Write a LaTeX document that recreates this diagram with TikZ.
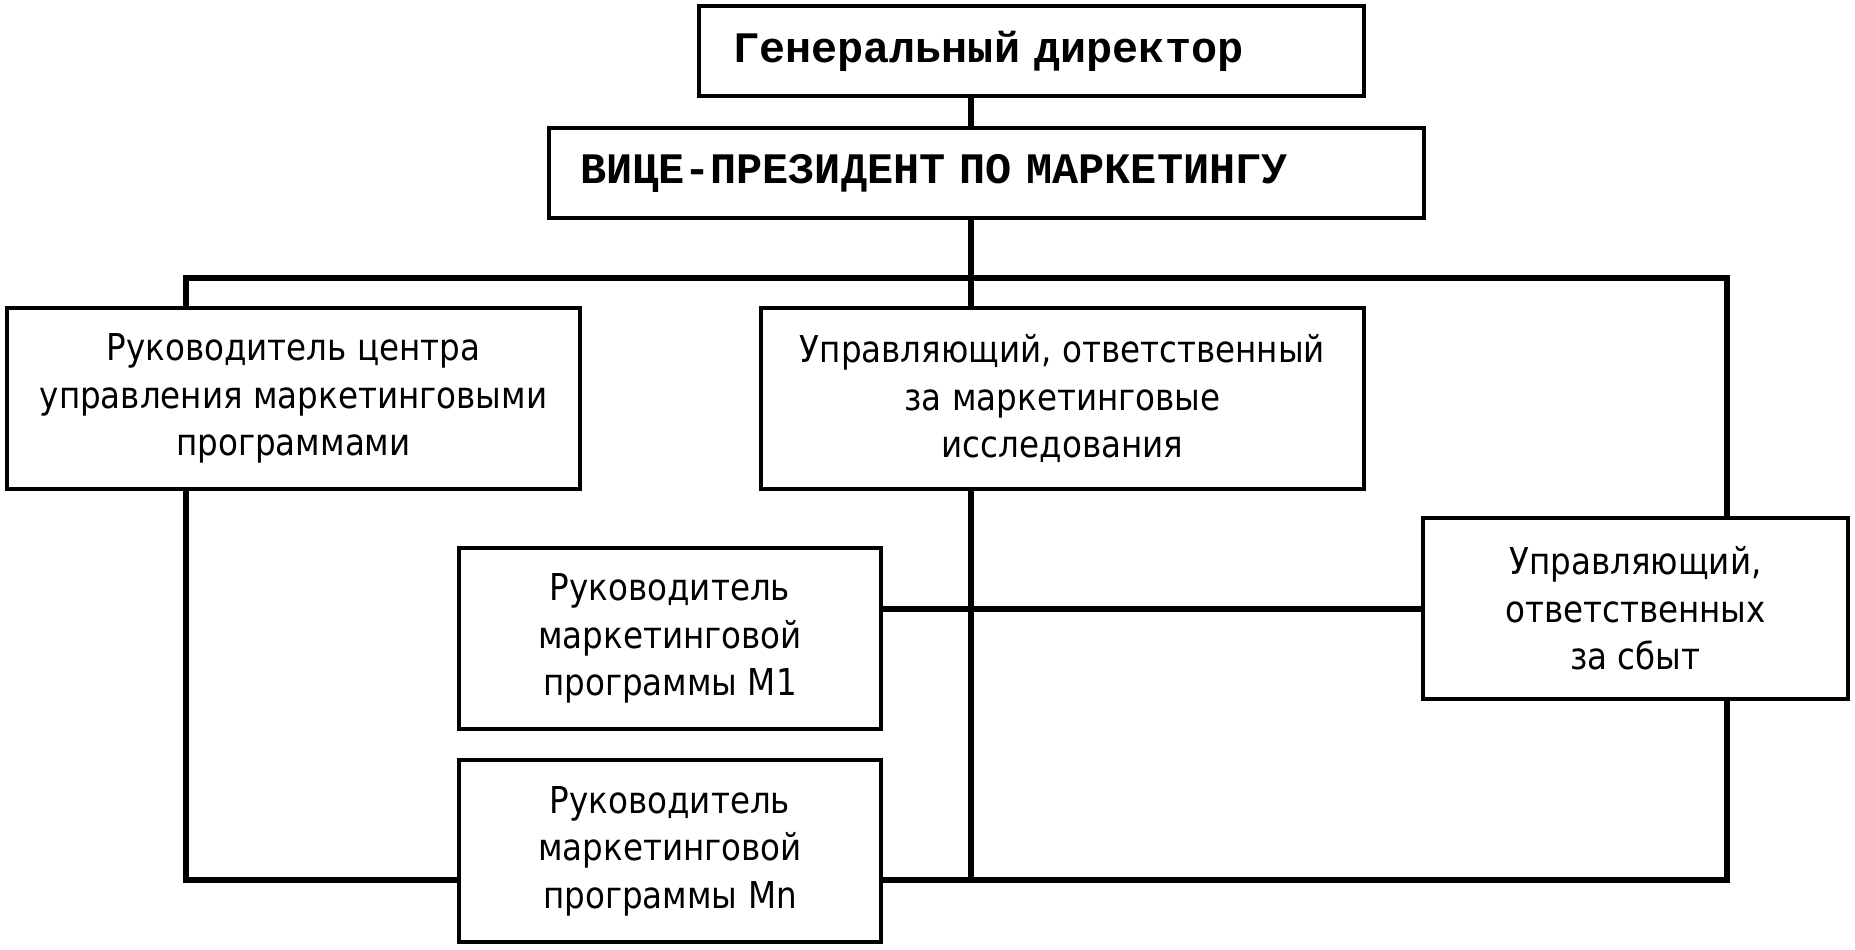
\documentclass[tikz,border=0pt]{standalone}
\usepackage{fontspec}
\newfontfamily\tah{DejaVu Sans}[FakeStretch=0.88]
\newfontfamily\cour{Liberation Mono}
\tikzset{
  box/.style={draw=black, line width=3.5pt, fill=white, rectangle, inner sep=0pt},
  sbox/.style={box, align=center, font=\tah\fontsize{37}{47.5}\selectfont},
  mbox/.style={box, align=left, font=\cour\bfseries\fontsize{43.5}{50}\selectfont},
  conn/.style={line width=6pt, line join=miter, line cap=rect}
}
\begin{document}
\begin{tikzpicture}[x=1pt,y=-1pt]
\useasboundingbox (0,0) rectangle (1855,950);
\node[mbox, inner xsep=34pt, text width=597pt, minimum height=90pt] (gd) at (1031.5,51) {Генеральный директор};
\node[mbox, inner xsep=31pt, text width=813pt, minimum height=90pt] (vp) at (986.5,173) {\raisebox{7pt}{ВИЦЕ-ПРЕЗИДЕНТ ПО МАРКЕТИНГУ}};
\node[sbox, minimum width=573pt, minimum height=181pt] (left) at (293.5,398.5) {Руководитель центра\\управления маркетинговыми\\программами};
\node[sbox, minimum width=603pt, minimum height=181pt] (mid) at (1062.5,398.5) {Управляющий, ответственный\\за маркетинговые\\исследования};
\node[sbox, minimum width=425pt, minimum height=181pt] (sales) at (1635.5,608.5) {Управляющий,\\ответственных\\за сбыт};
\node[sbox, minimum width=422pt, minimum height=181pt] (m1) at (670,638.5) {Руководитель\\маркетинговой\\программы M1};
\node[sbox, minimum width=422pt, minimum height=182pt] (mn) at (670,851) {Руководитель\\маркетинговой\\программы Mn};
\coordinate (spine) at (971,278);
\coordinate (busL) at (186,278);
\coordinate (busR) at (1727,278);
\coordinate (botL) at (186,880);
\coordinate (botR) at (1727,880);
\coordinate (botM) at (971,880);
\draw[conn] (gd.south -| spine) -- (vp.north -| spine);
\draw[conn] (vp.south -| spine) -- (mid.north -| spine);
\draw[conn] (left.north -| busL) -- (busL) -- (busR) -- (sales.north -| busR);
\draw[conn] (left.south -| busL) -- (botL) -- (mn.west |- botL);
\draw[conn] (mn.east |- botR) -- (botR) -- (sales.south -| busR);
\draw[conn] (mid.south -| spine) -- (botM);
\draw[conn] (m1.east |- sales.west) -- (sales.west);
\end{tikzpicture}
\end{document}
